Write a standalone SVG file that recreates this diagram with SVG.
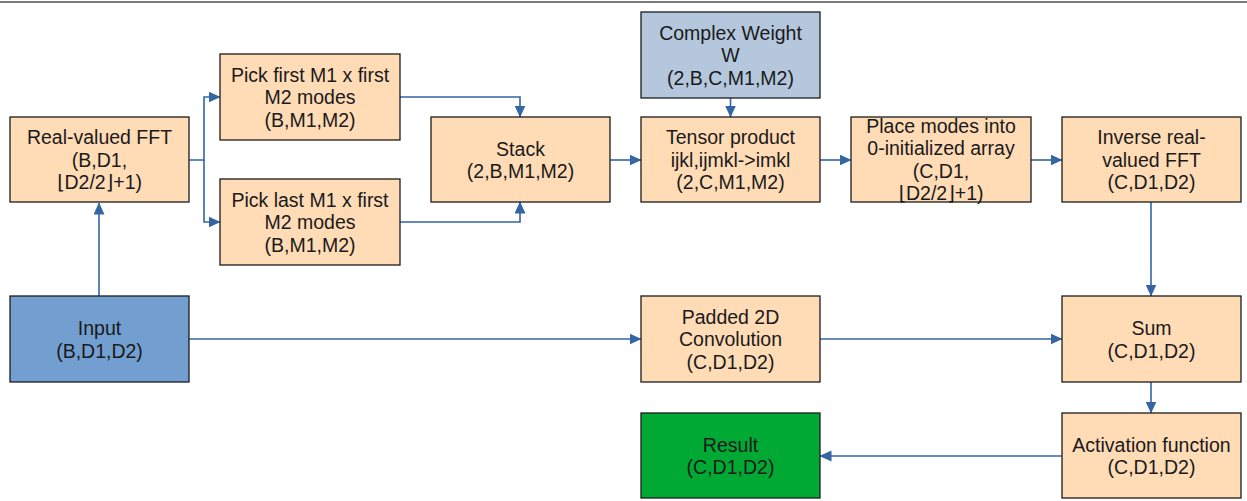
<svg xmlns="http://www.w3.org/2000/svg" width="1247" height="501" viewBox="0 0 1247 501">
  <style>
    .box { stroke: #1c1c1c; stroke-width: 1.3; }
    .orange { fill: #ffdbb6; }
    .blue { fill: #729fcf; }
    .lblue { fill: #b4c7dc; }
    .green { fill: #00a933; }
    text { font-family: "Liberation Sans", Arial, "DejaVu Sans", sans-serif; font-size: 19.5px; fill: #1a1a1a; text-anchor: middle; }
    .wire { fill: none; stroke: #3465a4; stroke-width: 1.6; }
  </style>
  <defs>
    <marker id="arrow" markerUnits="userSpaceOnUse" markerWidth="12" markerHeight="11" refX="11.5" refY="5.5" orient="auto">
      <path d="M0,0 L12,5.5 L0,11 Z" fill="#3465a4"/>
    </marker>
  </defs>

  <rect width="1247" height="501" fill="#ffffff"/>
  <line x1="0" y1="2" x2="1247" y2="2" stroke="#7a7a7a" stroke-width="2.2"/>

  <g id="connectors">
    <path class="wire" d="M99 296 V203" marker-end="url(#arrow)"/>
    <path class="wire" d="M189 160 H204 V97 H220" marker-end="url(#arrow)"/>
    <path class="wire" d="M204 160 V222 H220" marker-end="url(#arrow)"/>
    <path class="wire" d="M400 97 H520 V117" marker-end="url(#arrow)"/>
    <path class="wire" d="M400 222 H520 V202" marker-end="url(#arrow)"/>
    <path class="wire" d="M610 160 H641" marker-end="url(#arrow)"/>
    <path class="wire" d="M730.5 98 V117" marker-end="url(#arrow)"/>
    <path class="wire" d="M820 160 H851" marker-end="url(#arrow)"/>
    <path class="wire" d="M1031 160 H1062" marker-end="url(#arrow)"/>
    <path class="wire" d="M1151 202 V296" marker-end="url(#arrow)"/>
    <path class="wire" d="M189 339 H641" marker-end="url(#arrow)"/>
    <path class="wire" d="M820 339 H1062" marker-end="url(#arrow)"/>
    <path class="wire" d="M1151 382 V413" marker-end="url(#arrow)"/>
    <path class="wire" d="M1062 456 H820" marker-end="url(#arrow)"/>
  </g>

  <g id="rfft">
    <rect class="box orange" x="10" y="117" width="179" height="85"/>
    <text x="99.5" y="144">Real-valued FFT</text>
    <text x="99.5" y="166.5">(B,D1,</text>
    <text x="99.5" y="189">⌊D2/2⌋+1)</text>
  </g>

  <g id="pick-first">
    <rect class="box orange" x="220" y="54" width="180" height="86"/>
    <text x="310" y="81.5">Pick first M1 x first</text>
    <text x="310" y="104">M2 modes</text>
    <text x="310" y="126.5">(B,M1,M2)</text>
  </g>

  <g id="pick-last">
    <rect class="box orange" x="220" y="179" width="180" height="86"/>
    <text x="310" y="206.5">Pick last M1 x first</text>
    <text x="310" y="229">M2 modes</text>
    <text x="310" y="251.5">(B,M1,M2)</text>
  </g>

  <g id="stack">
    <rect class="box orange" x="431" y="117" width="179" height="85"/>
    <text x="520.5" y="155.75">Stack</text>
    <text x="520.5" y="178.25">(2,B,M1,M2)</text>
  </g>

  <g id="weight">
    <rect class="box lblue" x="641" y="12" width="179" height="86"/>
    <text x="730.5" y="39.5">Complex Weight</text>
    <text x="730.5" y="62">W</text>
    <text x="730.5" y="84.5">(2,B,C,M1,M2)</text>
  </g>

  <g id="tensor">
    <rect class="box orange" x="641" y="117" width="179" height="85"/>
    <text x="730.5" y="144">Tensor product</text>
    <text x="730.5" y="166.5">ijkl,ijmkl-&gt;imkl</text>
    <text x="730.5" y="189">(2,C,M1,M2)</text>
  </g>

  <g id="place">
    <rect class="box orange" x="851" y="117" width="180" height="85"/>
    <text x="941" y="132.75">Place modes into</text>
    <text x="941" y="155.25">0-initialized array</text>
    <text x="941" y="177.75">(C,D1,</text>
    <text x="941" y="200.25">⌊D2/2⌋+1)</text>
  </g>

  <g id="irfft">
    <rect class="box orange" x="1062" y="117" width="179" height="85"/>
    <text x="1151.5" y="144">Inverse real-</text>
    <text x="1151.5" y="166.5">valued FFT</text>
    <text x="1151.5" y="189">(C,D1,D2)</text>
  </g>

  <g id="input">
    <rect class="box blue" x="10" y="296" width="179" height="86"/>
    <text x="99.5" y="335.25">Input</text>
    <text x="99.5" y="357.75">(B,D1,D2)</text>
  </g>

  <g id="conv">
    <rect class="box orange" x="641" y="296" width="179" height="86"/>
    <text x="730.5" y="323.5">Padded 2D</text>
    <text x="730.5" y="346">Convolution</text>
    <text x="730.5" y="368.5">(C,D1,D2)</text>
  </g>

  <g id="sum">
    <rect class="box orange" x="1062" y="296" width="179" height="86"/>
    <text x="1151.5" y="335.25">Sum</text>
    <text x="1151.5" y="357.75">(C,D1,D2)</text>
  </g>

  <g id="activation">
    <rect class="box orange" x="1062" y="413" width="179" height="85"/>
    <text x="1151.5" y="451.75">Activation function</text>
    <text x="1151.5" y="474.25">(C,D1,D2)</text>
  </g>

  <g id="result">
    <rect class="box green" x="641" y="413" width="179" height="85"/>
    <text x="730.5" y="451.75">Result</text>
    <text x="730.5" y="474.25">(C,D1,D2)</text>
  </g>
</svg>
